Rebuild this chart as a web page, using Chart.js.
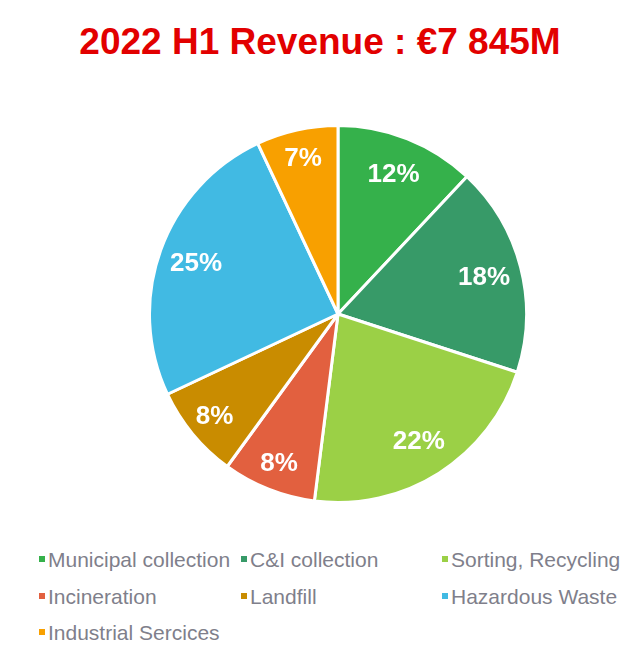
<!DOCTYPE html>
<html>
<head>
<meta charset="utf-8">
<script src="https://cdn.jsdelivr.net/npm/chart.js@4/dist/chart.umd.min.js"></script>
<style>
  body { margin: 0; width: 640px; height: 669px; background: #fff; position: relative; overflow: hidden; font-family: "Liberation Sans", Arial, sans-serif; }
  #title { position: absolute; left: 0; top: 22px; width: 640px; text-align: center; color: #e20000; font-weight: bold; font-size: 37px; line-height: 40px; }
  #pieBox { position: absolute; left: 148px; top: 124px; width: 380px; height: 380px; }
  .legendItem { position: absolute; font-size: 21px; color: #7f7f8b; line-height: 24px; white-space: nowrap; }
  .legendItem span { display: inline-block; width: 6px; height: 6px; margin-right: 3px; vertical-align: middle; position: relative; top: -2px; }
</style>
</head>
<body>
<div id="title">2022 H1 Revenue : €7 845M</div>
<div id="pieBox"><canvas id="revenueChart"></canvas></div>
<div id="legend"></div>
<script>
const segments = ['Municipal collection', 'C&I collection', 'Sorting, Recycling', 'Incineration', 'Landfill', 'Hazardous Waste', 'Industrial Sercices'];
const shares = [12, 18, 22, 8, 8, 25, 7];
const sliceColors = ['#35b14b', '#379a68', '#9bd046', '#e2603f', '#c98c00', '#41bae3', '#f8a000'];

const revenueChart = document.getElementById('revenueChart');
const legend = document.getElementById('legend');

// legend laid out in 3 columns like the slide
const legendCols = [39, 241, 442];
const legendRows = [548, 585, 621];
segments.forEach((name, i) => {
  const item = document.createElement('div');
  item.className = 'legendItem';
  item.style.left = legendCols[i % 3] + 'px';
  item.style.top = legendRows[Math.floor(i / 3)] + 'px';
  item.innerHTML = `<span style="background:${sliceColors[i]}"></span>${name}`;
  legend.appendChild(item);
});

const percentLabels = {
  id: 'percentLabels',
  afterDatasetsDraw(chart) {
    const ctx = chart.ctx;
    const meta = chart.getDatasetMeta(0);
    ctx.save();
    ctx.fillStyle = '#ffffff';
    ctx.font = 'bold 26px "Liberation Sans", Arial, sans-serif';
    ctx.textAlign = 'center';
    ctx.textBaseline = 'middle';
    meta.data.forEach((arc, i) => {
      const p = arc.getProps(['x', 'y', 'startAngle', 'endAngle', 'outerRadius'], true);
      const mid = (p.startAngle + p.endAngle) / 2;
      const r = p.outerRadius * (shares[i] < 10 ? 0.85 : 0.8);
      ctx.fillText(shares[i] + '%', p.x + Math.cos(mid) * r, p.y + Math.sin(mid) * r + 1);
    });
    ctx.restore();
  }
};

new Chart(revenueChart, {
  type: 'pie',
  data: {
    labels: segments,
    datasets: [{
      data: shares,
      backgroundColor: sliceColors,
      borderColor: '#ffffff',
      borderWidth: 3
    }]
  },
  options: {
    responsive: true,
    maintainAspectRatio: false,
    animation: false,
    plugins: {
      legend: { display: false },
      tooltip: { enabled: false }
    }
  },
  plugins: [percentLabels]
});
</script>
</body>
</html>
